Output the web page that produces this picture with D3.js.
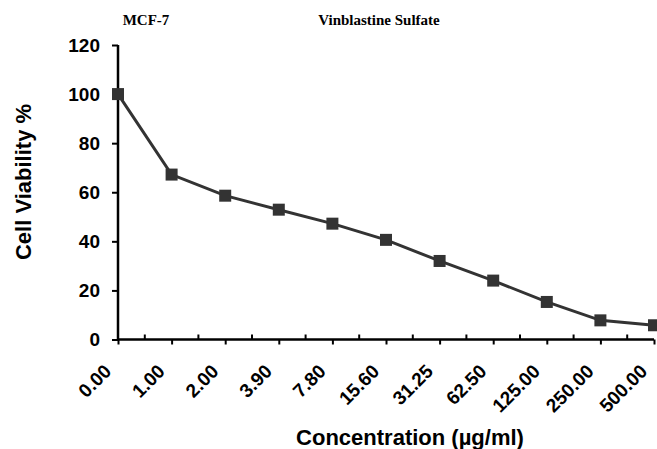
<!DOCTYPE html>
<html><head><meta charset="utf-8">
<script src="https://cdn.jsdelivr.net/npm/d3@7"></script>
<style>body{margin:0;background:#fff}</style>
</head><body>
<script>
const categories = ["0.00","1.00","2.00","3.90","7.80","15.60","31.25","62.50","125.00","250.00","500.00"];
const viability = [100, 67.2, 58.6, 52.9, 47.2, 40.6, 32, 24, 15.3, 7.8, 5.8];
const yTicks = [0,20,40,60,80,100,120];

const W = 657, H = 449;
const svg = d3.select("body").append("svg").attr("width", W).attr("height", H);

const x = d3.scalePoint().domain(categories).range([118, 654]);
const y = d3.scaleLinear().domain([0,120]).range([339.5, 45]);

// Titles
const serif = "Liberation Serif, Times New Roman, serif";
const sans = "Liberation Sans, Arial, sans-serif";
svg.append("text").attr("x",146).attr("y",25).attr("text-anchor","middle")
  .attr("font-family",serif).attr("font-weight","bold").attr("font-size",15)
  .text("MCF-7");
svg.append("text").attr("x",379).attr("y",25).attr("text-anchor","middle")
  .attr("font-family",serif).attr("font-weight","bold").attr("font-size",15)
  .text("Vinblastine Sulfate");

// Y axis
const yAxis = svg.append("g").attr("transform","translate(118,0)")
  .call(d3.axisLeft(y).tickValues(yTicks).tickSize(6).tickPadding(12));
yAxis.select(".domain").attr("stroke","#000").attr("stroke-width",2.5).attr("d", `M0,${y(120)}V${y(0)}`);
yAxis.selectAll(".tick line").attr("stroke","#000").attr("stroke-width",2);
yAxis.selectAll(".tick text").attr("font-family",sans)
  .attr("font-weight","bold").attr("font-size",19).attr("fill","#000");

// X axis
const xAxis = svg.append("g").attr("transform",`translate(0,${y(0)})`)
  .call(d3.axisBottom(x).tickSize(5).tickPadding(4));
xAxis.select(".domain").attr("stroke","#000").attr("stroke-width",2.5).attr("d", `M118,0H654`);
xAxis.selectAll(".tick line").attr("stroke","#000").attr("stroke-width",2);
xAxis.selectAll(".tick text")
  .attr("font-family",sans).attr("font-weight","bold").attr("font-size",19)
  .attr("fill","#000").attr("text-anchor","end")
  .attr("dy",null).attr("y",0)
  .attr("transform","translate(-6,33) rotate(-45)");
// minor ticks (upward) midway between categories
const step = x.step();
const mids = categories.slice(0,-1).map(c => x(c) + step/2);
xAxis.selectAll(".minor").data(mids).enter().append("line")
  .attr("x1",d=>d).attr("x2",d=>d).attr("y1",0).attr("y2",-5)
  .attr("stroke","#000").attr("stroke-width",2);

// Line
const data = categories.map((c,i)=>({c, v: viability[i]}));
svg.append("path").datum(data)
  .attr("fill","none").attr("stroke","#333").attr("stroke-width",3)
  .attr("d", d3.line().x(d=>x(d.c)).y(d=>y(d.v)));
svg.selectAll(".pt").data(data).enter().append("rect")
  .attr("x",d=>x(d.c)-6).attr("y",d=>y(d.v)-6).attr("width",12).attr("height",12)
  .attr("fill","#333");

// Axis titles
svg.append("text").attr("transform","translate(31,182) rotate(-90)").attr("text-anchor","middle")
  .attr("font-family",sans).attr("font-weight","bold").attr("font-size",22)
  .text("Cell Viability %");
svg.append("text").attr("x",410).attr("y",445).attr("text-anchor","middle")
  .attr("font-family",sans).attr("font-weight","bold").attr("font-size",22)
  .text("Concentration (µg/ml)");
</script>
</body></html>
